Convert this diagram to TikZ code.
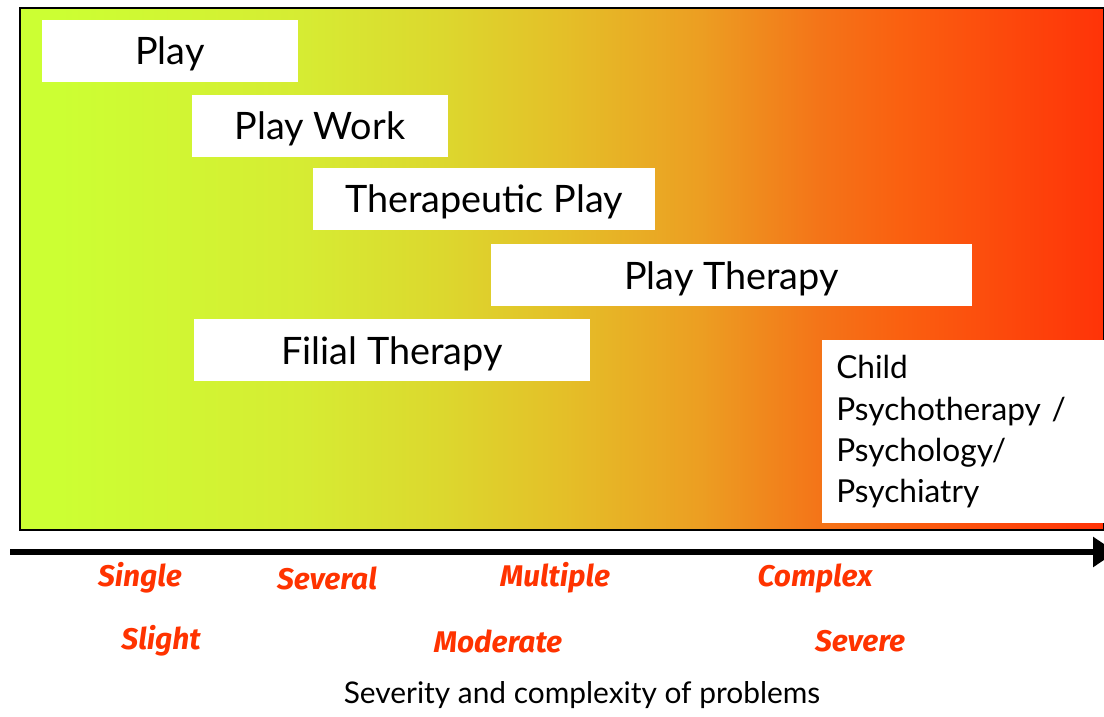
\documentclass[tikz,border=0pt]{standalone}
\usepackage{fontspec}
\setmainfont{Lato}
\newfontfamily\labelfont{Fira Sans}
\usetikzlibrary{arrows.meta}
\definecolor{labelred}{HTML}{FF3300}
\definecolor{sevA}{HTML}{CCFF33}
\definecolor{sevB}{HTML}{D6EC33}
\definecolor{sevC}{HTML}{DCD82E}
\definecolor{sevD}{HTML}{E4C028}
\definecolor{sevE}{HTML}{EC9E22}
\definecolor{sevF}{HTML}{F47418}
\definecolor{sevG}{HTML}{FA6010}
\definecolor{sevH}{HTML}{FF3308}
\pgfdeclarehorizontalshading{severity}{100bp}{%
  color(0bp)=(sevA); color(26.8bp)=(sevA); color(37.9bp)=(sevB);
  color(44.4bp)=(sevC); color(49.9bp)=(sevD); color(56.4bp)=(sevE);
  color(61.9bp)=(sevF); color(65.6bp)=(sevG); color(75bp)=(sevH);
  color(100bp)=(sevH)}
\tikzset{
  stagebox/.style={fill=white, inner sep=0pt, minimum height=1.24cm,
    text height=0.7cm, text depth=0.14cm,
    font=\fontsize{21.5}{24}\selectfont},
  level/.style={text=labelred, font=\labelfont\bfseries\itshape\fontsize{17}{19}\selectfont}
}
\begin{document}
\begin{tikzpicture}[x=0.02cm,y=-0.02cm]
  \useasboundingbox (0,0) rectangle (1104,716);
  % background scale
  \draw[black, line width=0.6pt, shading=severity] (20,8) rectangle (1104,530);
  % stages
  \node[stagebox, minimum width=5.12cm] (play)    at (170,51)    {Play};
  \node[stagebox, minimum width=5.12cm] (work)    at (320,126)   {Play Work};
  \node[stagebox, minimum width=6.84cm] (thplay)  at (484,199)   {Therapeutic Play};
  \node[stagebox, minimum width=9.62cm] (therapy) at (731.5,275) {Play Therapy};
  \node[stagebox, minimum width=7.92cm] (filial)  at (392,350)   {Filial Therapy};
  \node[fill=white, anchor=north west, minimum width=6cm, minimum height=3.66cm,
        align=left, text width=5.7cm, inner xsep=0.28cm, inner ysep=0.27cm,
        font=\fontsize{18}{23.6}\selectfont] (child) at (822,340)
        {Child\\Psychotherapy /\\Psychology/\\Psychiatry};
  % axis
  \coordinate (axisstart) at (10,552);
  \coordinate (axisend)   at (1116,552);
  \draw[black, line width=3.4pt, -{Triangle[length=0.46cm,width=0.58cm]}] (axisstart) -- (axisend);
  % levels
  \node[level] (single)   at (140,578) {Single};
  \node[level] (several)  at (327,578) {Several};
  \node[level] (multiple) at (555,578) {Multiple};
  \node[level] (complex)  at (815,578) {Complex};
  \node[level] (slight)   at (161,641) {Slight};
  \node[level] (moderate) at (498,641) {Moderate};
  \node[level] (severe)   at (860,641) {Severe};
  \node[font=\fontsize{17}{20}\selectfont] (caption) at (582,695) {Severity and complexity of problems};
\end{tikzpicture}
\end{document}
